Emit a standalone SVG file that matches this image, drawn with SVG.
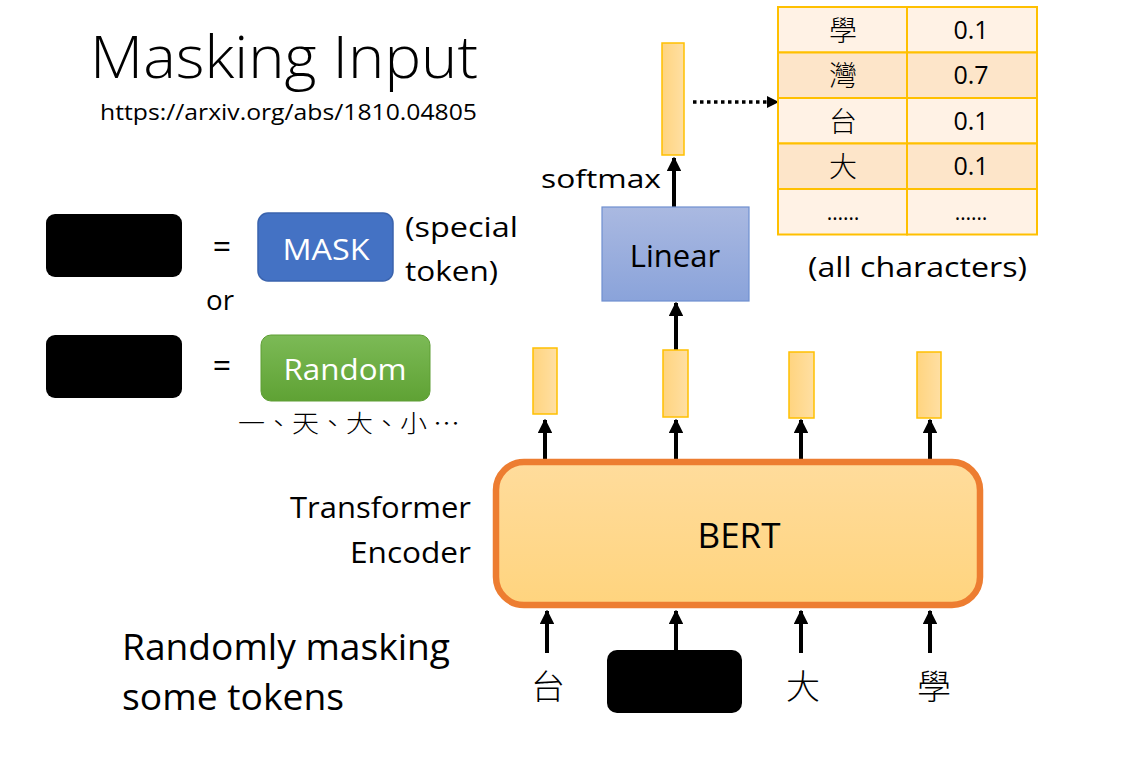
<svg xmlns="http://www.w3.org/2000/svg" width="1132" height="767" viewBox="0 0 1132 767">
<defs>
<linearGradient id="gY" x1="0" y1="0" x2="1" y2="0"><stop offset="0" stop-color="#FFD47F"/><stop offset="1" stop-color="#FFDFA3"/></linearGradient>
<linearGradient id="gBert" x1="0" y1="0" x2="0" y2="1"><stop offset="0" stop-color="#FFDC9C"/><stop offset="1" stop-color="#FFD47E"/></linearGradient>
<linearGradient id="gLin" x1="0" y1="0" x2="0" y2="1"><stop offset="0" stop-color="#AAB9E1"/><stop offset="1" stop-color="#8AA3DA"/></linearGradient>
<linearGradient id="gGreen" x1="0" y1="0" x2="0" y2="1"><stop offset="0" stop-color="#7CBA56"/><stop offset="1" stop-color="#5FA234"/></linearGradient>
<marker id="ah" viewBox="0 0 10 10" refX="9" refY="5" markerWidth="3.6" markerHeight="3.6" orient="auto" markerUnits="strokeWidth"><path d="M0,0 L10,5 L0,10 z" fill="#000"/></marker>
</defs>
<style>
text{font-family:"Open Sans","Noto Sans","Noto Sans CJK TC",sans-serif;fill:#000}
.cjk{font-family:"Noto Sans CJK TC","Noto Sans CJK SC",sans-serif;font-weight:300}
.vec{fill:url(#gY);stroke:#FFC000;stroke-width:1.5}
.blk{fill:#000}
.arr{stroke:#000;stroke-width:4;fill:none;marker-end:url(#ah)}
.cell1{fill:#FFF2E5;stroke:#FFC000;stroke-width:2}
.cell2{fill:#FDE5C9;stroke:#FFC000;stroke-width:2}
.w{fill:#fff}
</style>
<rect width="1132" height="767" fill="#fff"/>

<g id="title">
<text x="90" y="78" font-size="58" font-weight="300" textLength="388" lengthAdjust="spacingAndGlyphs">Masking Input</text>
<text x="100" y="120" font-size="22" textLength="377" lengthAdjust="spacingAndGlyphs">https://arxiv.org/abs/1810.04805</text>
</g>

<g id="legend-mask">
<rect class="blk" x="46" y="214" width="136" height="63" rx="9"/>
<text x="222" y="258" font-size="32" text-anchor="middle">=</text>
<rect x="258" y="213" width="135" height="68" rx="10" fill="#4472C4" stroke="#3A63AD" stroke-width="1.5"/>
<text class="w" x="326" y="260" font-size="30" text-anchor="middle" textLength="87" lengthAdjust="spacingAndGlyphs">MASK</text>
<text x="405" y="237" font-size="28" textLength="113" lengthAdjust="spacingAndGlyphs">(special</text>
<text x="405" y="281" font-size="28" textLength="93" lengthAdjust="spacingAndGlyphs">token)</text>
</g>
<g id="legend-or"><text x="206" y="310" font-size="28" textLength="28" lengthAdjust="spacingAndGlyphs">or</text></g>
<g id="legend-random">
<rect class="blk" x="46" y="335" width="136" height="63" rx="9"/>
<text x="222" y="377" font-size="32" text-anchor="middle">=</text>
<rect x="261" y="335" width="169" height="66" rx="10" fill="url(#gGreen)" stroke="#5E9E35" stroke-width="1"/>
<text class="w" x="345" y="380" font-size="30" text-anchor="middle" textLength="123" lengthAdjust="spacingAndGlyphs">Random</text>
<text class="cjk" x="238" y="432" font-size="24" textLength="222" lengthAdjust="spacingAndGlyphs">一、天、大、小 …</text>
</g>

<g id="connectors">
<line class="arr" x1="545" y1="463" x2="545" y2="420"/>
<line class="arr" x1="676" y1="463" x2="676" y2="420"/>
<line class="arr" x1="801" y1="463" x2="801" y2="420"/>
<line class="arr" x1="930" y1="463" x2="930" y2="420"/>
<line class="arr" x1="676" y1="350" x2="676" y2="303"/>
<line class="arr" x1="674" y1="207" x2="674" y2="158"/>
<line class="arr" x1="547" y1="653" x2="547" y2="611"/>
<line class="arr" x1="676" y1="651" x2="676" y2="611"/>
<line class="arr" x1="801" y1="653" x2="801" y2="611"/>
<line class="arr" x1="930" y1="653" x2="930" y2="611"/>
<line x1="693" y1="102" x2="768" y2="102" stroke="#000" stroke-width="3.5" stroke-dasharray="3.5 3.5"/>
<path d="M767,96 L779,102 L767,108 z" fill="#000"/>
</g>

<g id="bert">
<rect x="496" y="462" width="484" height="143" rx="28" fill="url(#gBert)" stroke="#ED7D31" stroke-width="6.5"/>
<text x="739" y="548" font-size="35" text-anchor="middle">BERT</text>
</g>
<g id="bert-label">
<text x="471" y="518" font-size="30" text-anchor="end" textLength="181" lengthAdjust="spacingAndGlyphs">Transformer</text>
<text x="471" y="563" font-size="30" text-anchor="end" textLength="121" lengthAdjust="spacingAndGlyphs">Encoder</text>
</g>

<g id="outputs">
<rect class="vec" x="533" y="348" width="24" height="66"/>
<rect class="vec" x="663" y="350" width="25" height="67"/>
<rect class="vec" x="789" y="352" width="25" height="66"/>
<rect class="vec" x="917" y="352" width="24" height="66"/>
</g>

<g id="linear">
<rect x="602" y="207" width="147" height="94" fill="url(#gLin)" stroke="#6F8FD0" stroke-width="1.2"/>
<text x="675" y="267" font-size="31" text-anchor="middle">Linear</text>
</g>

<g id="softmax-out">
<rect class="vec" x="662" y="43" width="22" height="112"/>
<text x="541" y="188" font-size="26" textLength="120" lengthAdjust="spacingAndGlyphs">softmax</text>
</g>

<g id="table">
<rect class="cell1" x="778" y="7" width="129" height="45.5"/>
<rect class="cell1" x="907" y="7" width="130" height="45.5"/>
<rect class="cell2" x="778" y="52.5" width="129" height="45.5"/>
<rect class="cell2" x="907" y="52.5" width="130" height="45.5"/>
<rect class="cell1" x="778" y="98" width="129" height="45.5"/>
<rect class="cell1" x="907" y="98" width="130" height="45.5"/>
<rect class="cell2" x="778" y="143.5" width="129" height="45.5"/>
<rect class="cell2" x="907" y="143.5" width="130" height="45.5"/>
<rect class="cell1" x="778" y="189" width="129" height="45.5"/>
<rect class="cell1" x="907" y="189" width="130" height="45.5"/>
<text class="cjk" x="843" y="41" font-size="28" text-anchor="middle">學</text>
<text class="cjk" x="843" y="86" font-size="28" text-anchor="middle">灣</text>
<text class="cjk" x="843" y="132" font-size="28" text-anchor="middle">台</text>
<text class="cjk" x="843" y="177" font-size="28" text-anchor="middle">大</text>
<text x="843" y="220" font-size="21" text-anchor="middle">……</text>
<text x="971" y="39" font-size="25" text-anchor="middle">0.1</text>
<text x="971" y="84" font-size="25" text-anchor="middle">0.7</text>
<text x="971" y="130" font-size="25" text-anchor="middle">0.1</text>
<text x="971" y="175" font-size="25" text-anchor="middle">0.1</text>
<text x="971" y="220" font-size="21" text-anchor="middle">……</text>
<text x="808" y="277" font-size="27" textLength="219" lengthAdjust="spacingAndGlyphs">(all characters)</text>
</g>

<g id="inputs">
<text class="cjk" x="548" y="699" font-size="34" text-anchor="middle">台</text>
<rect class="blk" x="607" y="650" width="135" height="63" rx="10"/>
<text class="cjk" x="803" y="699" font-size="34" text-anchor="middle">大</text>
<text class="cjk" x="934" y="699" font-size="34" text-anchor="middle">學</text>
</g>

<g id="caption">
<text x="122" y="660" font-size="36" textLength="328" lengthAdjust="spacingAndGlyphs">Randomly masking</text>
<text x="122" y="710" font-size="36" textLength="222" lengthAdjust="spacingAndGlyphs">some tokens</text>
</g>
</svg>
